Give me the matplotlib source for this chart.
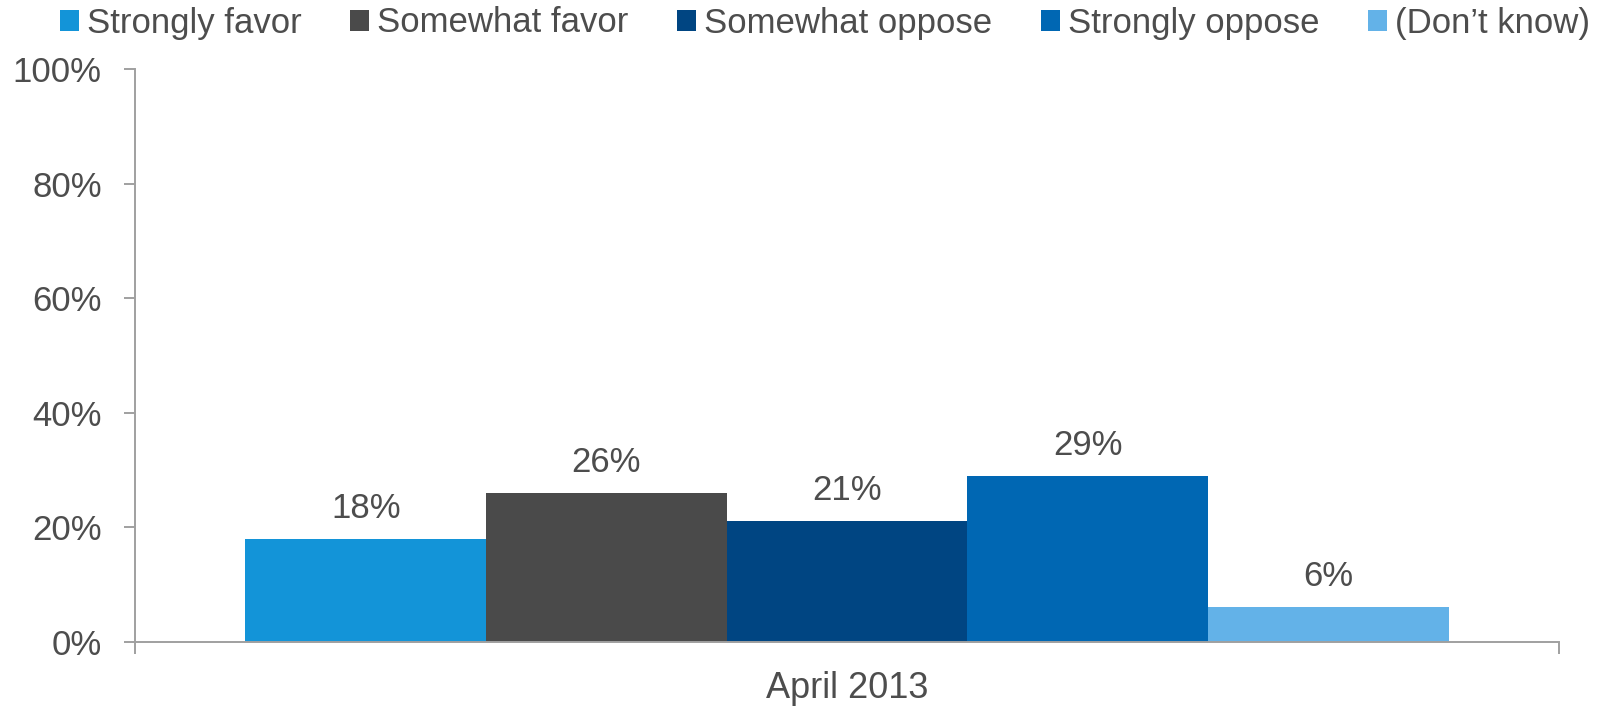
import numpy as np
import matplotlib
matplotlib.use("Agg")
import matplotlib.pyplot as plt

# survey answers, one bar per answer
answers = ["Strongly favor", "Somewhat favor", "Somewhat oppose",
           "Strongly oppose", "(Don\u2019t know)"]
shares = [18, 26, 21, 29, 6]
period = "April 2013"
yticks = [0, 20, 40, 60, 80, 100]

colors = ["#1394D8", "#4A4A4A", "#004582", "#0067B3", "#63B2E8"]
text_col = "#4D4D4D"
axis_col = "#A0A0A0"

plt.rcParams['font.family'] = ['Liberation Sans', 'DejaVu Sans']

fig = plt.figure(figsize=(16.15, 7.06), dpi=100)
fig.patch.set_facecolor("white")
ax = fig.add_axes([135/1615, 1 - 641.7/706, 1424/1615, (641.7 - 69)/706])

w = 0.169
n = len(answers)
bars = []
for i, (lab, val, c) in enumerate(zip(answers, shares, colors)):
    x = (i - (n - 1)/2) * w
    b = ax.bar(x, val, width=w, color=c, label=lab, zorder=1)
    bars.append(b)
    ax.annotate(f"{val}%", (x, val), xytext=(0, 22), textcoords="offset points",
                ha="center", va="center", fontsize=25, color=text_col)

ax.set_xlim(-0.5, 0.5)
ax.set_ylim(0, 100)

ax.set_yticks(yticks)
ax.set_yticklabels([f"{v}%" for v in yticks])
ax.tick_params(axis="y", length=8, width=1.4, color=axis_col, pad=16,
               labelsize=25, labelcolor=text_col)

ax.set_xticks([-0.5, 0.5])
ax.set_xticklabels(["", ""])
ax.tick_params(axis="x", which="major", length=8.6, width=1.4, color=axis_col)
ax.set_xticks([0], minor=True)
ax.set_xticklabels([period], minor=True)
ax.tick_params(axis="x", which="minor", length=0, pad=21,
               labelsize=26, labelcolor=text_col)

for s in ["top", "right"]:
    ax.spines[s].set_visible(False)
for s in ["left", "bottom"]:
    ax.spines[s].set_color(axis_col)
    ax.spines[s].set_linewidth(1.4)

fig.legend(handles=bars, labels=answers, loc="center",
           bbox_to_anchor=(825/1615, 1 - 23/706), ncol=n, frameon=False,
           fontsize=25, labelcolor=text_col, handlelength=0.55,
           handleheight=0.55, handletextpad=0.23, columnspacing=1.4,
           borderpad=0, borderaxespad=0)

fig.savefig("out.png", dpi=100)
